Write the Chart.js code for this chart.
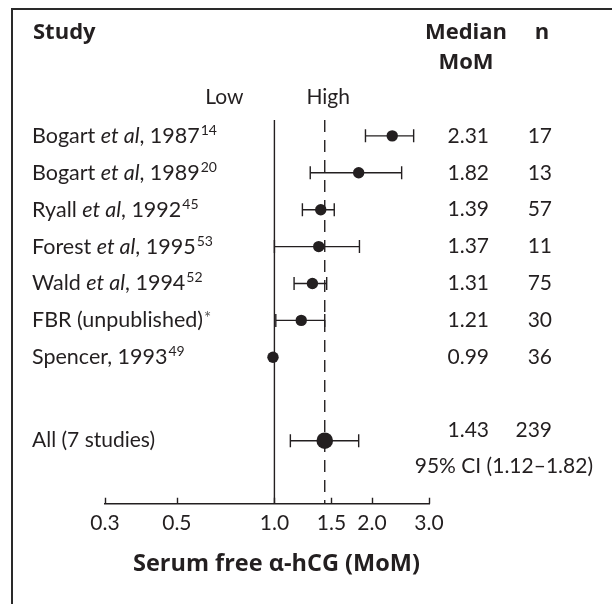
<!DOCTYPE html>
<html>
<head>
<meta charset="utf-8">
<title>Serum free α-hCG forest plot</title>
<script src="https://cdn.jsdelivr.net/npm/chart.js@4.4.1/dist/chart.umd.min.js"></script>
<style>
  html, body { margin: 0; padding: 0; background: #fff; }
  canvas { display: block; }
</style>
</head>
<body>
<canvas id="forest" width="612" height="604"></canvas>
<script>
// study rows: label pieces are [text, style] with n = normal, i = italic, s = superscript
const studyLabels = [
    [['Bogart ', 'n'], ['et al', 'i'], [', 1987', 'n'], ['14', 's']],
    [['Bogart ', 'n'], ['et al', 'i'], [', 1989', 'n'], ['20', 's']],
    [['Ryall ', 'n'], ['et al', 'i'], [', 1992', 'n'], ['45', 's']],
    [['Forest ', 'n'], ['et al', 'i'], [', 1995', 'n'], ['53', 's']],
    [['Wald ', 'n'], ['et al', 'i'], [', 1994', 'n'], ['52', 's']],
    [['FBR (unpublished)', 'n'], ['*', 's']],
    [['Spencer, 1993', 'n'], ['49', 's']]
];
const medianMoM = [2.31, 1.82, 1.39, 1.37, 1.31, 1.21, 0.99];
const ciLow = [1.91, 1.29, 1.22, 1.00, 1.15, 1.01, null];
const ciHigh = [2.69, 2.47, 1.53, 1.83, 1.45, 1.43, null];
const nCases = [17, 13, 57, 11, 75, 30, 36];

const pooledLabel = 'All (7 studies)';
const pooledMedian = [1.43];
const pooledCI = [1.12, 1.82];
const pooledN = [239];

const tickValues = [0.3, 0.5, 1.0, 1.5, 2.0, 3.0];
const tickLabels = ['0.3', '0.5', '1.0', '1.5', '2.0', '3.0'];
const axisTitle = 'Serum free α-hCG (MoM)';

const INK = '#231f20';
const FONT = 'Lato';
const BOLD = '"Open Sans"';
const POOLED_ROW = 8.26;
const Y_MIN = -0.43, Y_MAX = 9.97;

function ciDataset(lo, hi, row) {
    return {
        type: 'line',
        data: [{ x: lo, y: row }, { x: hi, y: row }],
        borderColor: INK,
        borderWidth: 1.4,
        pointStyle: 'line',
        rotation: 90,
        pointRadius: 6.5,
        pointBorderWidth: 1.4,
        pointBorderColor: INK,
        order: 1
    };
}

const datasets = [];

// study estimates and pooled estimate drawn on top
datasets.push({
    type: 'scatter',
    data: medianMoM.map((m, i) => ({ x: m, y: i })),
    pointRadius: 5.7,
    pointBackgroundColor: INK,
    pointBorderWidth: 0,
    order: 0
});
datasets.push({
    type: 'scatter',
    data: [{ x: pooledMedian[0], y: POOLED_ROW }],
    pointRadius: 8.3,
    pointBackgroundColor: INK,
    pointBorderWidth: 0,
    order: 0
});

medianMoM.forEach((m, i) => {
    if (ciLow[i] != null) datasets.push(ciDataset(ciLow[i], ciHigh[i], i));
});
datasets.push(ciDataset(pooledCI[0], pooledCI[1], POOLED_ROW));

// no-effect line at 1.0 and dashed line at the pooled median
datasets.push({
    type: 'line',
    data: [{ x: 1, y: Y_MIN }, { x: 1, y: Y_MAX }],
    borderColor: INK,
    borderWidth: 1.4,
    pointRadius: 0,
    order: 2
});
datasets.push({
    type: 'line',
    data: [{ x: pooledMedian[0], y: Y_MIN }, { x: pooledMedian[0], y: Y_MAX }],
    borderColor: INK,
    borderWidth: 1.4,
    borderDash: [12, 8],
    pointRadius: 0,
    order: 2
});

function drawLabel(ctx, pieces, x, y) {
    pieces.forEach(([txt, style]) => {
        if (style === 's') {
            const star = txt === '*';
            ctx.font = (star ? '17px ' : '14px ') + FONT;
            ctx.textBaseline = 'alphabetic';
            ctx.fillStyle = star ? '#555' : INK;
            ctx.fillText(txt, x + 1, star ? y + 4 : y - 1);
            ctx.fillStyle = INK;
            x += ctx.measureText(txt).width + 1;
        } else {
            ctx.font = (style === 'i' ? 'italic ' : '') + '21.5px ' + FONT;
            ctx.textBaseline = 'middle';
            ctx.fillText(txt, x, y);
            x += ctx.measureText(txt).width;
        }
    });
}

const forestText = {
    id: 'forestText',
    afterDraw(chart) {
        const ctx = chart.ctx;
        const xs = chart.scales.x;
        const ys = chart.scales.y;
        const area = chart.chartArea;
        ctx.save();

        // frame
        ctx.strokeStyle = '#2a2a2a';
        ctx.lineWidth = 2;
        ctx.beginPath();
        ctx.moveTo(612, 9);
        ctx.lineTo(12, 9);
        ctx.lineTo(12, 604);
        ctx.stroke();

        ctx.fillStyle = INK;
        ctx.textBaseline = 'middle';

        // headers
        ctx.font = 'bold 22px ' + BOLD;
        ctx.textAlign = 'left';
        ctx.fillText('Study', 33, 33);
        ctx.textAlign = 'center';
        ctx.fillText('Median', 466, 33);
        ctx.fillText('MoM', 466, 63);
        ctx.fillText('n', 542, 33);

        ctx.font = '21px ' + FONT;
        const x1 = xs.getPixelForValue(1);
        ctx.textAlign = 'right';
        ctx.fillText('Low', x1 - 31, 97);
        ctx.textAlign = 'left';
        ctx.fillText('High', x1 + 32, 97);

        // study rows
        studyLabels.forEach((pieces, i) => {
            const y = ys.getPixelForValue(i);
            ctx.textAlign = 'left';
            drawLabel(ctx, pieces, 32, y);
            ctx.font = '21px ' + FONT;
            ctx.textBaseline = 'middle';
            ctx.textAlign = 'right';
            ctx.fillText(medianMoM[i].toFixed(2), 489, y);
            ctx.fillText(String(nCases[i]), 552, y);
        });

        // pooled row
        const yp = ys.getPixelForValue(POOLED_ROW);
        ctx.font = '21px ' + FONT;
        ctx.textAlign = 'left';
        ctx.fillText(pooledLabel, 32, yp);
        ctx.textAlign = 'right';
        ctx.fillText(pooledMedian[0].toFixed(2), 489, yp - 10);
        ctx.fillText(String(pooledN[0]), 552, yp - 10);
        ctx.fillText('95% CI (' + pooledCI[0].toFixed(2) + '–' + pooledCI[1].toFixed(2) + ')', 593, yp + 26);

        // tick marks point up from the axis line
        ctx.strokeStyle = INK;
        ctx.lineWidth = 1.4;
        ctx.beginPath();
        tickValues.forEach(v => {
            const px = Math.round(xs.getPixelForValue(v)) + 0.5;
            ctx.moveTo(px, area.bottom);
            ctx.lineTo(px, area.bottom - 6);
        });
        ctx.stroke();

        // axis title, centred under the 1.0 line
        ctx.font = 'bold 23.5px ' + BOLD;
        ctx.textAlign = 'center';
        ctx.fillText(axisTitle, x1 + 2, area.bottom + 61);
        ctx.restore();
    }
};

Chart.defaults.font.family = FONT;
Chart.defaults.color = INK;

new Chart(document.getElementById('forest'), {
    type: 'scatter',
    data: { datasets },
    options: {
        responsive: false,
        animation: false,
        devicePixelRatio: 1,
        layout: { padding: { left: 105, right: 183, top: 120, bottom: 61 } },
        plugins: { legend: { display: false }, tooltip: { enabled: false } },
        scales: {
            x: {
                type: 'logarithmic',
                min: tickValues[0],
                max: tickValues[tickValues.length - 1],
                afterBuildTicks: scale => {
                    scale.ticks = tickValues.map(v => ({ value: v }));
                },
                ticks: {
                    autoSkip: false,
                    maxRotation: 0,
                    padding: 7,
                    font: { size: 21 },
                    color: INK,
                    callback: v => tickLabels[tickValues.indexOf(v)]
                },
                grid: { drawOnChartArea: false, drawTicks: false },
                border: { display: true, color: INK, width: 1.4 }
            },
            y: {
                type: 'linear',
                reverse: true,
                min: Y_MIN,
                max: Y_MAX,
                display: false
            }
        }
    },
    plugins: [forestText]
});
</script>
</body>
</html>
